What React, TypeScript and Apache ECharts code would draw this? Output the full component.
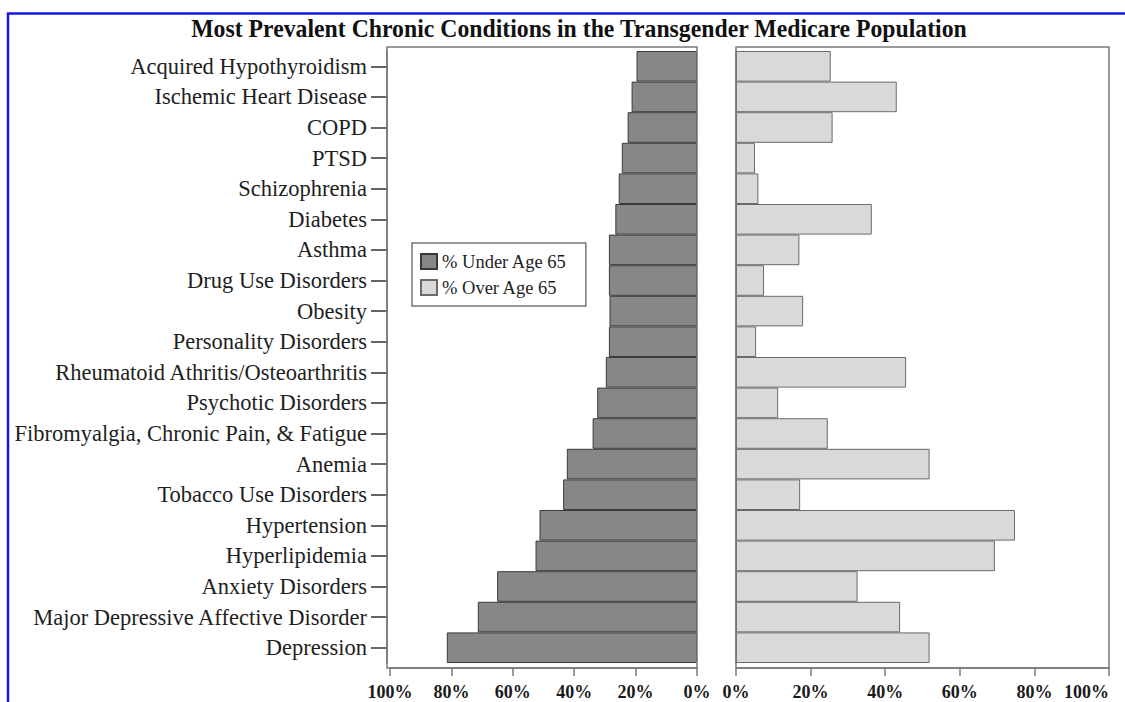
import React, { useEffect, useRef } from "react";
import * as echarts from "echarts";

const categories = [
  "Acquired Hypothyroidism",
  "Ischemic Heart Disease",
  "COPD",
  "PTSD",
  "Schizophrenia",
  "Diabetes",
  "Asthma",
  "Drug Use Disorders",
  "Obesity",
  "Personality Disorders",
  "Rheumatoid Athritis/Osteoarthritis",
  "Psychotic Disorders",
  "Fibromyalgia, Chronic Pain, & Fatigue",
  "Anemia",
  "Tobacco Use Disorders",
  "Hypertension",
  "Hyperlipidemia",
  "Anxiety Disorders",
  "Major Depressive Affective Disorder",
  "Depression",
];

const under65 = [19.7, 21.3, 22.6, 24.5, 25.5, 26.6, 28.7, 28.7, 28.5, 28.7, 29.7, 32.5, 34.0, 42.4, 43.6, 51.3, 52.6, 65.1, 71.4, 81.5];
const over65 = [25.4, 43.1, 25.9, 5.1, 6.0, 36.4, 17.0, 7.5, 18.0, 5.4, 45.6, 11.3, 24.6, 51.9, 17.2, 74.8, 69.4, 32.6, 44.0, 51.9];

const seriesNames = ["% Under Age 65", "% Over Age 65"];
const xTicks = [0, 20, 40, 60, 80, 100];
const titleText = "Most Prevalent Chronic Conditions in the Transgender Medicare Population";

const SERIF = '"Liberation Serif", "Times New Roman", serif';

export default function App() {
  const ref = useRef<HTMLDivElement>(null);
  useEffect(() => {
    document.body.style.margin = "0";
    const chart = echarts.init(ref.current!, null, { renderer: "svg" });
    const axisGray = "#7a7a7a";
    const xLabel = {
      fontFamily: SERIF,
      fontWeight: "bold" as const,
      fontSize: 18,
      color: "#1a1a1a",
      margin: 15,
      formatter: "{value}%",
    };
    chart.setOption({
      animation: false,
      backgroundColor: "#fff",
      grid: [
        { left: 390, right: 428, top: 51, bottom: 39, outerBoundsMode: "none", containLabel: false },
        { left: 736, right: 16, top: 51, bottom: 39, outerBoundsMode: "none", containLabel: false },
      ],
      xAxis: [
        {
          gridIndex: 0,
          type: "value",
          min: xTicks[0],
          max: xTicks[xTicks.length - 1],
          interval: 20,
          inverse: true,
          offset: 5,
          splitLine: { show: false },
          axisLine: { show: true, lineStyle: { color: axisGray, width: 1.5 } },
          axisTick: { show: true, length: 8, lineStyle: { color: axisGray, width: 1.5 } },
          axisLabel: xLabel,
        },
        {
          gridIndex: 1,
          type: "value",
          min: xTicks[0],
          max: xTicks[xTicks.length - 1],
          interval: 20,
          offset: 5,
          splitLine: { show: false },
          axisLine: { show: true, lineStyle: { color: axisGray, width: 1.5 } },
          axisTick: { show: true, length: 8, lineStyle: { color: axisGray, width: 1.5 } },
          axisLabel: { ...xLabel, alignMaxLabel: "right" },
        },
      ],
      yAxis: [
        {
          gridIndex: 0,
          type: "category",
          data: categories,
          inverse: true,
          offset: 3,
          axisLine: { show: true, onZero: false, lineStyle: { color: axisGray, width: 1.5 } },
          axisTick: {
            show: true,
            interval: 0,
            alignWithLabel: true,
            inside: false,
            length: 16,
            lineStyle: { color: "#333", width: 1.5 },
          },
          axisLabel: {
            fontFamily: SERIF,
            fontSize: 22.5,
            color: "#1e1e1e",
            margin: 20,
            interval: 0,
          },
        },
        {
          gridIndex: 1,
          type: "category",
          data: categories,
          inverse: true,
          axisLine: { show: true, lineStyle: { color: axisGray, width: 1.5 } },
          axisTick: { show: false },
          axisLabel: { show: false },
        },
      ],
      legend: {
        left: 412,
        top: 243,
        orient: "vertical",
        data: seriesNames,
        icon: "rect",
        itemWidth: 16,
        itemHeight: 15,
        itemGap: 7,
        padding: [9, 19, 9, 8],
        borderColor: "#777",
        borderWidth: 1.5,
        backgroundColor: "#fff",
        textStyle: { fontFamily: SERIF, fontSize: 18.5, color: "#1e1e1e" },
      },
      series: [
        {
          name: seriesNames[0],
          type: "bar",
          xAxisIndex: 0,
          yAxisIndex: 0,
          data: under65,
          barWidth: "100%",
          itemStyle: { color: "#878787", borderColor: "#3a3a3a", borderWidth: 1 },
        },
        {
          name: seriesNames[1],
          type: "bar",
          xAxisIndex: 1,
          yAxisIndex: 1,
          data: over65,
          barWidth: "100%",
          itemStyle: { color: "#d9d9d9", borderColor: "#6a6a6a", borderWidth: 1 },
        },
      ],
      graphic: [
        {
          type: "rect",
          silent: true,
          z: 100,
          shape: { x: 387, y: 47, width: 310, height: 621 },
          style: { fill: "none", stroke: axisGray, lineWidth: 1.5 },
        },
        {
          type: "rect",
          silent: true,
          z: 100,
          shape: { x: 736, y: 47, width: 373, height: 621 },
          style: { fill: "none", stroke: axisGray, lineWidth: 1.5 },
        },
        {
          type: "line",
          silent: true,
          z: 100,
          shape: { x1: 7, y1: 13.5, x2: 1125, y2: 13.5 },
          style: { stroke: "#1414e6", lineWidth: 2.5 },
        },
        {
          type: "line",
          silent: true,
          z: 100,
          shape: { x1: 8, y1: 13, x2: 8, y2: 702 },
          style: { stroke: "#1414e6", lineWidth: 2.5 },
        },
        {
          type: "text",
          x: 579,
          y: 28,
          scaleX: 0.95,
          style: {
            text: titleText,
            font: 'bold 25px "Liberation Serif", serif',
            fill: "#111",
            textAlign: "center",
            textVerticalAlign: "middle",
          },
        },
      ],
    });
    return () => chart.dispose();
  }, []);
  return <div ref={ref} style={{ width: 1125, height: 702, position: "fixed", left: 0, top: 0 }} />;
}
